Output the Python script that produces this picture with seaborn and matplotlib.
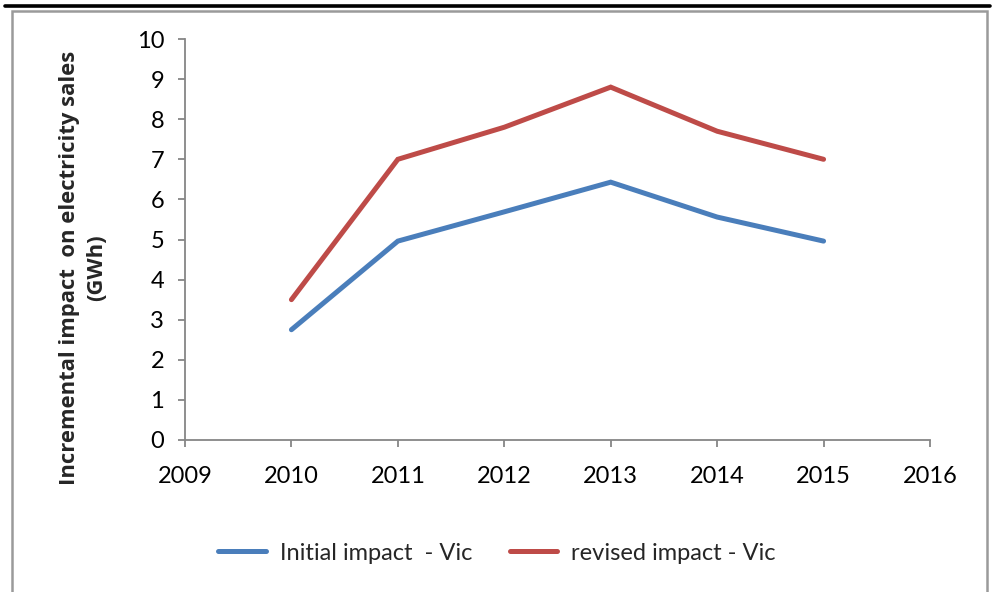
"""
Incremental impact on electricity sales (Vic) - line chart recreation
"""

import matplotlib
matplotlib.use("Agg")
import matplotlib.pyplot as plt
from matplotlib.patches import Rectangle
from matplotlib.lines import Line2D
import pandas as pd
import seaborn as sns

# ─────────────────────────────────────────────
# Data
# ─────────────────────────────────────────────
years = [2010, 2011, 2012, 2013, 2014, 2015]
initial_impact = [2.75, 4.96, 5.69, 6.43, 5.56, 4.96]
revised_impact = [3.5, 7.0, 7.8, 8.8, 7.7, 7.0]
series_names = ["Initial impact  - Vic", "revised impact - Vic"]
series_colors = ["#4A7EBB", "#BE4B48"]

df = pd.concat([
    pd.DataFrame({"year": years, "value": initial_impact, "series": series_names[0]}),
    pd.DataFrame({"year": years, "value": revised_impact, "series": series_names[1]}),
])

# ─────────────────────────────────────────────
# Style
# ─────────────────────────────────────────────
sns.set_style("white")
plt.rcParams["font.family"] = ["Lato", "DejaVu Sans"]
grey = "#868686"

W, H = 994, 592
fig = plt.figure(figsize=(W / 100, H / 100), dpi=100)
ax = fig.add_axes([185 / W, 1 - 440 / H, 745 / W, 401 / H])

sns.lineplot(
    data=df, x="year", y="value", hue="series",
    palette=dict(zip(series_names, series_colors)),
    linewidth=3.6, ax=ax, legend=False,
)
for ln in ax.lines:
    ln.set_solid_capstyle("round")
    ln.set_solid_joinstyle("miter")

ax.set_xlim(2009, 2016)
ax.set_ylim(0, 10)
ax.set_xticks(range(2009, 2017))
ax.set_yticks(range(0, 11))
ax.set_xlabel("")
ax.set_ylabel("")

for side in ["top", "right"]:
    ax.spines[side].set_visible(False)
for side in ["left", "bottom"]:
    ax.spines[side].set_color(grey)
    ax.spines[side].set_linewidth(1.3)

ax.tick_params(axis="both", which="major", direction="out", length=5,
               width=1.3, color=grey, labelsize=17, labelcolor="black")
ax.tick_params(axis="x", pad=14)
ax.tick_params(axis="y", pad=10)
ax.tick_params(left=True, bottom=True)

# y label as figure text (two lines, bold)
fig.text(83 / W, 1 - 268 / H,
         "Incremental impact  on electricity sales\n(GWh)",
         rotation=90, ha="center", va="center", multialignment="center",
         fontsize=15.8, fontweight="bold", linespacing=1.4,
         family=["Open Sans", "DejaVu Sans"])

# legend below the plot
handles = [Line2D([0], [0], color=c, lw=3.6, solid_capstyle="round")
           for c in series_colors]
fig.legend(handles, series_names, loc="center",
           bbox_to_anchor=(497 / W, 1 - 553 / H), ncol=2, frameon=False,
           fontsize=17, handlelength=2.0, handletextpad=0.6,
           columnspacing=1.6)

# outer chart frame: grey box with a black rule across the top
fig.patches.append(Rectangle((12 / W, -0.02), 975 / W, 1.02 - 11 / H,
                             transform=fig.transFigure, fill=False,
                             edgecolor="#9A9A9A", linewidth=1.8))
fig.add_artist(Line2D([5 / W, 990 / W], [1 - 6 / H, 1 - 6 / H],
                      transform=fig.transFigure, color="black", linewidth=2.6))

fig.savefig("out.png", dpi=100)
plt.close(fig)
